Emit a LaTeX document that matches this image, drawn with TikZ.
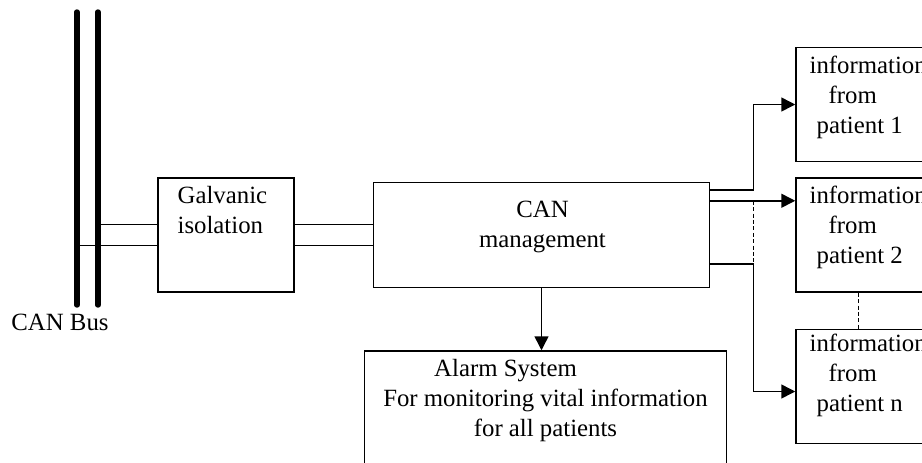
\documentclass[tikz,border=0pt]{standalone}
\usepackage{fontspec}
\setmainfont{Liberation Serif}
\usetikzlibrary{arrows.meta, positioning}

\begin{document}
\begin{tikzpicture}[
    x=0.5pt, y=-0.5pt,
    box/.style={rectangle, draw=black, line width=0.75pt, inner sep=0pt},
    txt/.style={inner sep=0pt, font=\fontsize{12.4}{15}\selectfont},
    patient/.style={box, minimum width=80pt, minimum height=57pt},
    bus/.style={line width=2.7pt, line cap=round},
    wire/.style={line width=0.75pt},
    arr/.style={-{Triangle[length=7pt, width=7pt]}, line width=0.75pt},
    dots/.style={dash pattern=on 2pt off 1.2pt, line width=0.6pt},
]
\useasboundingbox (0,0) rectangle (922,462);

\coordinate (busL) at (77,12);
\coordinate (busR) at (98,12);
\draw[bus] (busL) -- ++(0,293);
\draw[bus] (busR) -- ++(0,293);
\node[txt] (canbus) at (60,322) {CAN Bus};

\node[box, minimum width=68pt, minimum height=57pt] (galv) at (226,235) {};
\node[txt, align=left, anchor=north west] (galvtxt) at ([shift={(10pt,-4.5pt)}]galv.north west) {Galvanic\\isolation};

\node[box, minimum width=168pt, minimum height=52.5pt, right=39pt of galv] (can) {};
\node[txt, align=center, anchor=north] (cantxt) at ([shift={(0.5pt,-9.5pt)}]can.north) {CAN\\management};

\node[box, minimum width=181pt, minimum height=63pt, below=31pt of can, xshift=2pt] (alarm) {};
\node[txt, align=center, anchor=north] (alarmtxt) at ([yshift=-4.3pt]alarm.north) {Alarm System\hspace*{40pt}\\For monitoring vital information\\for all patients};

\node[patient, right=42.5pt of can] (p2) {};
\node[patient, above=7.5pt of p2] (p1) {};
\node[patient, below=18pt of p2] (pn) {};

\node[txt, align=left, anchor=north west] (p1txt) at ([shift={(7pt,-4.3pt)}]p1.north west) {information\\\hspace*{9.5pt}from\\\hspace*{3.5pt}patient 1};
\node[txt, align=left, anchor=north west] (p2txt) at ([shift={(7pt,-4.3pt)}]p2.north west) {information\\\hspace*{9.5pt}from\\\hspace*{3.5pt}patient 2};
\node[txt, align=left, anchor=north west] (pntxt) at ([shift={(7pt,-2.3pt)}]pn.north west) {information\\\hspace*{9.5pt}from\\\hspace*{3.5pt}patient n};

\coordinate (g1) at ([yshift=-23.5pt]galv.north west);
\coordinate (g2) at ([yshift=-34pt]galv.north west);
\draw[wire] (busR |- g1) -- (g1);
\draw[wire] (busL |- g2) -- (g2);
\draw[wire] (g1 -| galv.east) -- (g1 -| can.west);
\draw[wire] (g2 -| galv.east) -- (g2 -| can.west);

\draw[arr] (can.south) -- (can.south |- alarm.north);

\coordinate (c1) at ([yshift=-4pt]can.north east);
\coordinate (c2) at ([yshift=-9.5pt]can.north east);
\coordinate (c3) at ([yshift=-41pt]can.north east);
\draw[arr] (c1) -- ++(21.5pt,0) |- (p1.west);
\draw[arr] (c2) -- (c2 -| p2.west);
\draw[arr] (c3) -- ++(21.5pt,0) |- ([yshift=-2.5pt]pn.west);
\draw[dots] ([xshift=21.5pt]c2) -- ([xshift=21.5pt]c3);
\draw[dots] ([xshift=31.5pt]p2.south west) -- ([xshift=31.5pt]pn.north west);

\end{tikzpicture}
\end{document}
